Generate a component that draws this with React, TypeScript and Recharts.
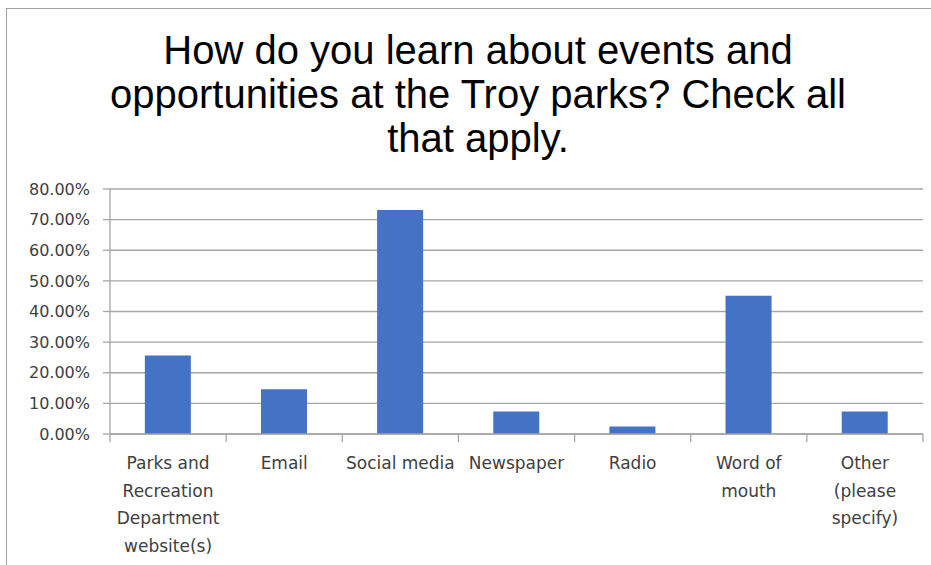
import React from "react";
import { BarChart, Bar, XAxis, YAxis, CartesianGrid } from "recharts";

const categories = [
  "Parks and Recreation Department website(s)",
  "Email",
  "Social media",
  "Newspaper",
  "Radio",
  "Word of mouth",
  "Other (please specify)",
];
const tickLines: string[][] = [
  ["Parks and", "Recreation", "Department", "website(s)"],
  ["Email"],
  ["Social media"],
  ["Newspaper"],
  ["Radio"],
  ["Word of", "mouth"],
  ["Other", "(please", "specify)"],
];
const values = [25.61, 14.63, 73.17, 7.32, 2.44, 45.12, 7.32];
const yTicks = [0, 10, 20, 30, 40, 50, 60, 70, 80];
const titleLines = [
  "How do you learn about events and",
  "opportunities at the Troy parks? Check all",
  "that apply.",
];

const data = categories.map((c, i) => ({ name: c, value: values[i] }));

const TEXT = "#404040";
const GRID = "#a6a6a6";

const CatTick = (props: any) => {
  const { x, y, index, width, visibleTicksCount } = props;
  const lines = tickLines[index] || [props.payload.value];
  const band = width / (visibleTicksCount || categories.length);
  const left = x - band / 2;
  const right = x + band / 2;
  const isLast = index === categories.length - 1;
  return (
    <g>
      <line x1={left} x2={left} y1={y} y2={y + 8} stroke={GRID} strokeWidth={1.3} />
      {isLast && (
        <line x1={right} x2={right} y1={y} y2={y + 8} stroke={GRID} strokeWidth={1.3} />
      )}
      <text
        x={x}
        y={y}
        textAnchor="middle"
        fill={TEXT}
        fontFamily="DejaVu Sans"
        fontSize={17}
      >
        {lines.map((l, i) => (
          <tspan key={i} x={x} y={y + 35 + i * 27.7}>
            {l}
          </tspan>
        ))}
      </text>
    </g>
  );
};

export default function App() {
  return (
    <div
      style={{
        position: "absolute",
        left: 0,
        top: 0,
        width: 931,
        height: 565,
        overflow: "hidden",
        background: "#fff",
      }}
    >
      <div
        style={{
          position: "absolute",
          left: 6,
          top: 8,
          width: 1000,
          height: 1000,
          border: "1px solid #a0a0a0",
          boxSizing: "border-box",
        }}
      />
      <div
        style={{
          position: "absolute",
          left: 0,
          top: 28,
          width: 956,
          textAlign: "center",
          fontFamily: "'Liberation Sans', Arial, sans-serif",
          fontSize: 40,
          lineHeight: "44px",
          color: "#000",
        }}
      >
        {titleLines.map((l, i) => (
          <div key={i}>{l}</div>
        ))}
      </div>
      <div style={{ position: "absolute", left: 0, top: 0 }}>
        <BarChart
          width={931}
          height={565}
          data={data}
          margin={{ top: 189, right: 8, bottom: 0, left: 0 }}
          barCategoryGap="30%"
        >
          <CartesianGrid vertical={false} stroke={GRID} strokeWidth={1.3} />
          <XAxis
            dataKey="name"
            height={131}
            tickLine={false}
            axisLine={{ stroke: GRID, strokeWidth: 1.3 }}
            tickSize={0}
            tickMargin={0}
            interval={0}
            tick={<CatTick />}
          />
          <YAxis
            width={110}
            domain={[0, 80]}
            ticks={yTicks}
            interval={0}
            tickFormatter={(v: number) => `${v.toFixed(2)}%`}
            tick={{ fill: TEXT, fontFamily: "DejaVu Sans", fontSize: 16 }}
            tickSize={7}
            tickMargin={13}
            tickLine={{ stroke: GRID, strokeWidth: 1.3 }}
            axisLine={{ stroke: GRID, strokeWidth: 1.3 }}
          />
          <Bar dataKey="value" fill="#4472C4" isAnimationActive={false} />
        </BarChart>
      </div>
    </div>
  );
}
